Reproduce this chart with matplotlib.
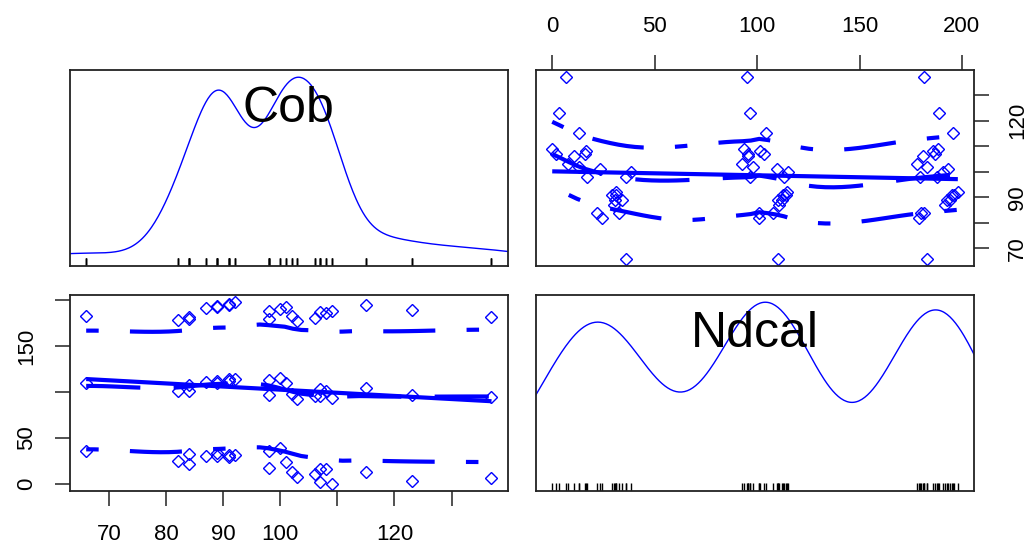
import numpy as np
import matplotlib.pyplot as plt

plt.rcParams['font.family'] = ['Liberation Sans', 'DejaVu Sans']

# observations, grouped by Ndcal period (low / mid / high)
cob_low = [66, 82, 84, 84, 87, 89, 89, 91, 91, 92, 98, 98, 100, 101, 102, 103, 106, 107, 107, 108, 109, 115, 123, 137]
ndcal_low = [36, 24.5, 22, 32.5, 30, 30.5, 34, 31, 29, 31, 36, 17, 38.5, 23.5, 13, 7.5, 10.5, 2, 16, 16.5, 0, 13, 3.5, 6.5]
cob_mid = [66, 82, 84, 84, 87, 89, 89, 91, 91, 92, 98, 98, 100, 101, 102, 103, 106, 107, 107, 108, 109, 115, 123, 137]
ndcal_mid = [110, 101, 101, 108, 110.5, 112, 110, 114, 112.5, 114.5, 96.5, 113, 115, 109.5, 98, 92.5, 95.5, 95.5, 103.5, 101.5, 93.5, 104.5, 96.5, 95]
cob_high = [66, 82, 84, 84, 87, 89, 89, 91, 91, 92, 98, 98, 100, 101, 102, 103, 106, 107, 108, 109, 115, 123, 137]
ndcal_high = [183, 179, 180, 181.5, 191.5, 192.5, 194, 195, 196, 198, 179.5, 188, 191, 193, 183, 178, 181, 187, 186, 188.5, 195.5, 189, 181.5]

cob_ticks = [70, 80, 90, 100, 110, 120, 130]
cob_ticklabels = ['70', '80', '90', '100', '', '120', '']
cob_ticklabels_right = ['70', '', '90', '', '', '120', '']
ndcal_ticks = [0, 50, 100, 150, 200]
ndcal_ticklabels_top = ['0', '50', '100', '150', '200']
ndcal_ticklabels_left = ['0', '50', '', '150', '']

cob = np.array(cob_low + cob_mid + cob_high, dtype=float)
ndcal = np.array(ndcal_low + ndcal_mid + ndcal_high, dtype=float)

SPAN = 2 / 3


def kd_vertices(x, fc):
    # cell boundaries of a 1-d kd split, cells hold at most fc points
    p = np.sort(x)
    r = p[-1] - p[0]
    verts = [p[0] - 0.005 * r, p[-1] + 0.005 * r]

    def split(lo, hi):
        if hi - lo + 1 <= fc:
            return
        m = (lo + hi) // 2
        verts.append((p[m] + p[m + 1]) / 2)
        split(lo, m)
        split(m + 1, hi)

    split(0, len(p) - 1)
    return np.unique(verts)


def loess(x, y, xs, span=SPAN, degree=1):
    # local regression at the kd vertices, cubic hermite in between
    n = len(x)
    q = max(int(np.floor(n * span)), 2)
    fc = max(int(np.floor(n * span * 0.2)), 1)

    def fit_at(x0):
        d = np.abs(x - x0)
        h = np.sort(d)[q - 1] * 1.0001 + 1e-9
        w = np.clip(1 - (d / h) ** 3, 0, None) ** 3
        if degree == 0:
            return np.sum(w * y) / np.sum(w), 0.0
        X = np.column_stack([np.ones(n), x - x0])
        sw = np.sqrt(w)
        beta = np.linalg.lstsq(X * sw[:, None], y * sw, rcond=None)[0]
        return beta[0], beta[1]

    v = kd_vertices(x, fc)
    vf = np.array([fit_at(t) for t in v])

    def surface(t):
        t = np.asarray(t, dtype=float)
        k = np.clip(np.searchsorted(v, t) - 1, 0, len(v) - 2)
        h = v[k + 1] - v[k]
        u = (t - v[k]) / h
        h00 = 2 * u ** 3 - 3 * u ** 2 + 1
        h10 = u ** 3 - 2 * u ** 2 + u
        h01 = -2 * u ** 3 + 3 * u ** 2
        h11 = u ** 3 - u ** 2
        return (h00 * vf[k, 0] + h10 * h * vf[k, 1] +
                h01 * vf[k + 1, 0] + h11 * h * vf[k + 1, 1])

    return surface(x), surface(xs)


def adaptive_density(x, adjust=0.9, n=500, cut=3):
    iqr = np.subtract(*np.percentile(x, [75, 25]))
    bw = adjust * 0.9 * min(np.std(x, ddof=1), iqr / 1.34) * len(x) ** -0.2
    grid = np.linspace(x.min() - cut * bw, x.max() + cut * bw, n)
    pilot = np.mean(np.exp(-0.5 * ((x[:, None] - x[None, :]) / bw) ** 2), axis=1) / (bw * np.sqrt(2 * np.pi))
    g = np.exp(np.mean(np.log(pilot)))
    h = bw * (pilot / g) ** -0.5
    dens = np.mean(np.exp(-0.5 * ((grid[:, None] - x[None, :]) / h) ** 2) / (h * np.sqrt(2 * np.pi)), axis=1)
    return grid, dens


def padded(v):
    r = v.max() - v.min()
    return v.min() - 0.04 * r, v.max() + 0.04 * r


def scatter_panel(ax, x, y):
    ax.plot(x, y, 'D', ms=6, mfc='none', mec='blue', mew=1, zorder=2)
    xs = np.linspace(x.min(), x.max(), 50)
    b, a = np.polyfit(x, y, 1)
    ax.plot(xs, a + b * xs, color='blue', lw=3, solid_capstyle='butt', zorder=3)

    fitted, pred = loess(x, y, xs)
    res = y - fitted
    pos = res > 0
    ax.plot(xs, pred, color='blue', lw=3, dashes=(13, 8), zorder=3)
    for mask, sign in ((pos, 1), (~pos, -1)):
        _, var = loess(x[mask], res[mask] ** 2, xs, degree=0)
        inside = (xs >= x[mask].min()) & (xs <= x[mask].max())
        ax.plot(xs[inside], pred[inside] + sign * np.sqrt(np.clip(var[inside], 0, None)),
                color='blue', lw=3, dashes=(3, 7.5, 12.5, 7.5), zorder=3)


def diag_panel(ax, x, name):
    grid, dens = adaptive_density(x)
    ax.plot(grid, dens, color='blue', lw=1)
    ax.set_xlim(padded(x))
    ax.set_ylim(padded(dens))
    ax.vlines(x, 0, 0.04, transform=ax.get_xaxis_transform(), color='black', lw=1)
    ax.text(0.5, 0.80, name, transform=ax.transAxes, ha='center', va='center', fontsize=36)
    ax.set_xticks([])
    ax.set_yticks([])


fig = plt.figure(figsize=(10.29, 5.5), dpi=100)
ax_tl = fig.add_axes([0.068, 0.5164, 0.4254, 0.3564])
ax_tr = fig.add_axes([0.5209, 0.5164, 0.4257, 0.3564])
ax_bl = fig.add_axes([0.068, 0.1073, 0.4254, 0.3564])
ax_br = fig.add_axes([0.5209, 0.1073, 0.4257, 0.3564])

for ax in (ax_tl, ax_tr, ax_bl, ax_br):
    for sp in ax.spines.values():
        sp.set_linewidth(1.3)
        sp.set_color('#222222')
    ax.tick_params(direction='out', length=10.8, width=1.1, color='#222222',
                   labelsize=16, pad=13)

diag_panel(ax_tl, cob, 'Cob')
diag_panel(ax_br, ndcal, 'Ndcal')

# Cob against Ndcal
scatter_panel(ax_tr, ndcal, cob)
ax_tr.set_xlim(padded(ndcal))
ax_tr.set_ylim(padded(cob))
ax_tr.xaxis.tick_top()
ax_tr.yaxis.tick_right()
ax_tr.set_xticks(ndcal_ticks)
ax_tr.set_xticklabels(ndcal_ticklabels_top)
ax_tr.set_yticks(cob_ticks)
ax_tr.set_yticklabels(cob_ticklabels_right, rotation=90, va='center')

# Ndcal against Cob
scatter_panel(ax_bl, cob, ndcal)
ax_bl.set_xlim(padded(cob))
ax_bl.set_ylim(padded(ndcal))
ax_bl.set_xticks(cob_ticks)
ax_bl.set_xticklabels(cob_ticklabels)
ax_bl.set_yticks(ndcal_ticks)
ax_bl.set_yticklabels(ndcal_ticklabels_left, rotation=90, va='center')

fig.savefig('out.png', dpi=100)
